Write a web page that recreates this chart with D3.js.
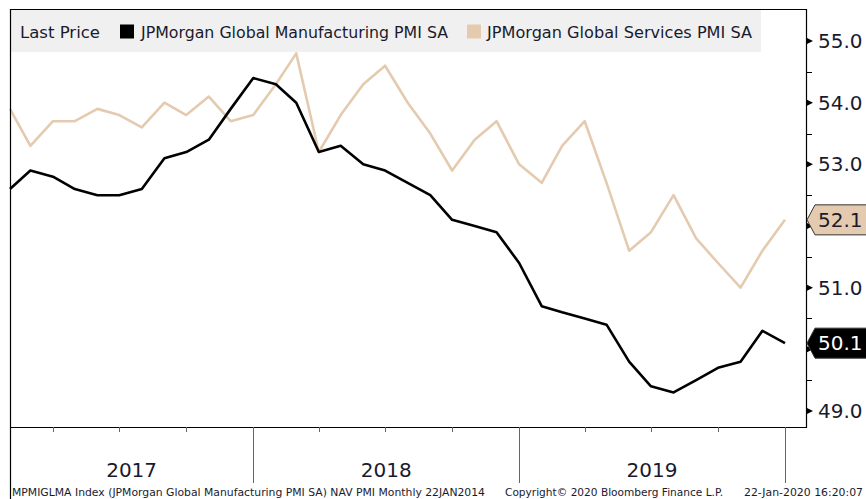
<!DOCTYPE html>
<html>
<head>
<meta charset="utf-8">
<script src="https://cdn.jsdelivr.net/npm/d3@7"></script>
<style>
body { margin: 0; background: #fff; }
svg { display: block; font-family: Tahoma, "DejaVu Sans", sans-serif; }
</style>
</head>
<body>
<div id="chart"></div>
<script>
// monthly readings, Jan 2017 .. Dec 2019
var months = ["2017-01", "2017-02", "2017-03", "2017-04", "2017-05", "2017-06",
    "2017-07", "2017-08", "2017-09", "2017-10", "2017-11", "2017-12",
    "2018-01", "2018-02", "2018-03", "2018-04", "2018-05", "2018-06",
    "2018-07", "2018-08", "2018-09", "2018-10", "2018-11", "2018-12",
    "2019-01", "2019-02", "2019-03", "2019-04", "2019-05", "2019-06",
    "2019-07", "2019-08", "2019-09", "2019-10", "2019-11", "2019-12"];
var manufacturing = [52.6, 52.9, 52.8, 52.6, 52.5, 52.5, 52.6, 53.1, 53.2, 53.4, 53.9, 54.4,
    54.3, 54.0, 53.2, 53.3, 53.0, 52.9, 52.7, 52.5, 52.1, 52.0, 51.9, 51.4,
    50.7, 50.6, 50.5, 50.4, 49.8, 49.4, 49.3, 49.5, 49.7, 49.8, 50.3, 50.1];
var services = [53.9, 53.3, 53.7, 53.7, 53.9, 53.8, 53.6, 54.0, 53.8, 54.1, 53.7, 53.8,
    54.3, 54.8, 53.2, 53.8, 54.3, 54.6, 54.0, 53.5, 52.9, 53.4, 53.7, 53.0,
    52.7, 53.3, 53.7, 52.7, 51.6, 51.9, 52.5, 51.8, 51.4, 51.0, 51.6, 52.1];
var yTicks = [49, 50, 51, 52, 53, 54, 55];
var yMinorTicks = [49.5, 50.5, 51.5, 52.5, 53.5, 54.5];
var yearLabels = ["2017", "2018", "2019"];
var legendTitle = "Last Price";
var seriesNames = ["JPMorgan Global Manufacturing PMI SA", "JPMorgan Global Services PMI SA"];
var footerTexts = ["MPMIGLMA Index (JPMorgan Global Manufacturing PMI SA) NAV PMI  Monthly 22JAN2014",
    "Copyright\u00A9 2020 Bloomberg Finance L.P.",
    "22-Jan-2020 16:20:07"];

var width = 866, height = 499;
var plotLeft = 10, plotRight = 806, plotTop = 9, plotBottom = 427;
var tan = "#e4cbb0";
var ink = "#1a1a2e";

var parseMonth = d3.timeParse("%Y-%m");
// Bloomberg puts each monthly point at the end of its month
var dates = months.map(function (m) { return d3.timeMonth.offset(parseMonth(m), 1); });

var x = d3.scaleTime()
    .domain([dates[0], dates[dates.length - 1]])
    .range([plotLeft, 785]);

var y = d3.scaleLinear()
    .domain([48.74, 55.52])
    .range([plotBottom, plotTop]);

var svg = d3.select("#chart")
    .append("svg")
    .attr("width", width)
    .attr("height", height);

var line = d3.line()
    .x(function (d, i) { return x(dates[i]); })
    .y(function (d) { return y(d); });

svg.append("path")
    .attr("d", line(services))
    .attr("fill", "none")
    .attr("stroke", tan)
    .attr("stroke-width", 2.6)
    .attr("stroke-linejoin", "round");

svg.append("path")
    .attr("d", line(manufacturing))
    .attr("fill", "none")
    .attr("stroke", "#000")
    .attr("stroke-width", 2.6)
    .attr("stroke-linejoin", "round");

// legend strip
var legend = svg.append("g");
legend.append("rect")
    .attr("x", plotLeft).attr("y", plotTop)
    .attr("width", 751).attr("height", 43)
    .attr("fill", "#f0f0f0");
legend.append("text")
    .attr("x", 20).attr("y", 38)
    .attr("font-size", 16.5).attr("fill", ink)
    .attr("textLength", 80).attr("lengthAdjust", "spacingAndGlyphs")
    .text(legendTitle);
legend.append("rect")
    .attr("x", 120).attr("y", 24.5).attr("width", 14).attr("height", 14)
    .attr("fill", "#000");
legend.append("text")
    .attr("x", 141).attr("y", 38)
    .attr("font-size", 16.5).attr("fill", ink)
    .attr("textLength", 307).attr("lengthAdjust", "spacingAndGlyphs")
    .text(seriesNames[0]);
legend.append("rect")
    .attr("x", 467).attr("y", 24.5).attr("width", 14).attr("height", 14)
    .attr("fill", tan);
legend.append("text")
    .attr("x", 487).attr("y", 38)
    .attr("font-size", 16.5).attr("fill", ink)
    .attr("textLength", 265).attr("lengthAdjust", "spacingAndGlyphs")
    .text(seriesNames[1]);

// frame
svg.append("path")
    .attr("d", "M" + (plotLeft + 0.5) + "," + height + "V" + (plotTop + 0.5) +
        "H" + (plotRight + 0.5) + "V" + (plotBottom + 0.5) + "H" + (plotLeft + 0.5))
    .attr("fill", "none")
    .attr("stroke", "#000")
    .attr("stroke-width", 1.2);

// bottom time axis: quarter ticks, long year separators
var tickDates = d3.timeMonth.every(3).range(x.domain()[0], d3.timeDay.offset(x.domain()[1], 1));
svg.selectAll(".qtick")
    .data(tickDates)
    .enter()
    .append("line")
    .attr("x1", function (d) { return Math.round(x(d)) + 0.5; })
    .attr("x2", function (d) { return Math.round(x(d)) + 0.5; })
    .attr("y1", plotBottom)
    .attr("y2", function (d) { return d.getMonth() === 0 ? 483 : 432; })
    .attr("stroke", "#666")
    .attr("stroke-width", 1);

svg.selectAll(".year")
    .data(yearLabels)
    .enter()
    .append("text")
    .attr("x", function (d) {
        var a = Math.max(plotLeft, x(parseMonth(d + "-01")));
        var b = x(parseMonth((+d + 1) + "-01"));
        return (a + b) / 2;
    })
    .attr("y", 477)
    .attr("text-anchor", "middle")
    .attr("font-size", 20)
    .attr("fill", ink)
    .text(function (d) { return d; });

// last value tags
var lastTags = [
    { value: services[services.length - 1], fill: tan, color: ink },
    { value: manufacturing[manufacturing.length - 1], fill: "#000", color: "#fff" }
];

// right value axis
var yAxis = svg.append("g");
yAxis.selectAll(".major")
    .data(yTicks)
    .enter()
    .append("path")
    .attr("d", function (d) {
        var p = y(d);
        return "M" + plotRight + "," + (p - 3.5) + "L" + (plotRight + 7) + "," + p + "L" + plotRight + "," + (p + 3.5) + "Z";
    })
    .attr("fill", "#000");
yAxis.selectAll(".minor")
    .data(yMinorTicks)
    .enter()
    .append("line")
    .attr("x1", plotRight).attr("x2", plotRight + 6)
    .attr("y1", function (d) { return Math.round(y(d)) + 0.5; })
    .attr("y2", function (d) { return Math.round(y(d)) + 0.5; })
    .attr("stroke", "#000");
// labels hidden behind a value tag are left out
var visibleLabels = yTicks.filter(function (t) {
    return lastTags.every(function (g) { return Math.abs(y(t) - y(g.value)) > 16; });
});
yAxis.selectAll(".label")
    .data(visibleLabels)
    .enter()
    .append("text")
    .attr("x", 818)
    .attr("y", function (d) { return y(d) + 7; })
    .attr("font-size", 20)
    .attr("fill", ink)
    .text(function (d) { return d3.format(".1f")(d); });

var tags = svg.selectAll(".tag")
    .data(lastTags)
    .enter()
    .append("g");
tags.append("path")
    .attr("d", function (d) {
        var p = y(d.value);
        return "M" + (plotRight + 1) + "," + p + "L" + (plotRight + 9) + "," + (p - 15) +
            "H" + (width + 2) + "V" + (p + 15) + "H" + (plotRight + 9) + "Z";
    })
    .attr("fill", function (d) { return d.fill; })
    .attr("stroke", "#333")
    .attr("stroke-width", 1);
tags.append("text")
    .attr("x", 818)
    .attr("y", function (d) { return y(d.value) + 7; })
    .attr("font-size", 20)
    .attr("fill", function (d) { return d.color; })
    .text(function (d) { return d3.format(".1f")(d.value); });

// footer
var footerPos = [[12, 473], [505, 218], [744, 119]];
svg.selectAll(".footer")
    .data(footerTexts)
    .enter()
    .append("text")
    .attr("x", function (d, i) { return footerPos[i][0]; })
    .attr("y", 496)
    .attr("font-size", 10.5)
    .attr("fill", ink)
    .attr("textLength", function (d, i) { return footerPos[i][1]; })
    .attr("lengthAdjust", "spacingAndGlyphs")
    .text(function (d) { return d; });
</script>
</body>
</html>
